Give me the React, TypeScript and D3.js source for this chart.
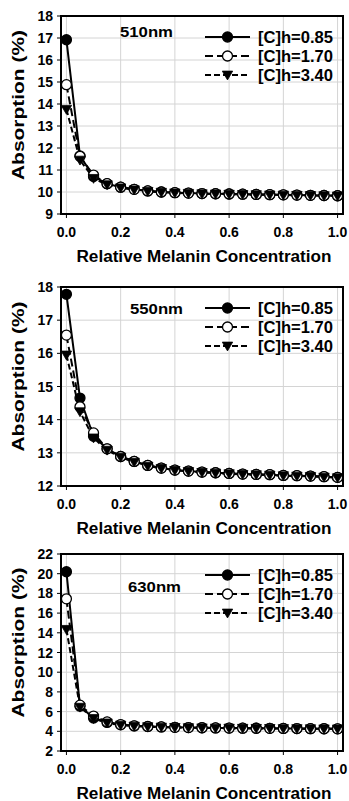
import { useEffect, useRef } from "react"
import * as d3 from "d3"

// relative melanin concentration (x) and the three hemoglobin levels
const concentrations = [0, 0.05, 0.1, 0.15, 0.2, 0.25, 0.3, 0.35, 0.4, 0.45, 0.5, 0.55, 0.6, 0.65, 0.7, 0.75, 0.8, 0.85, 0.9, 0.95, 1.0]
const seriesNames = ["[C]h=0.85", "[C]h=1.70", "[C]h=3.40"]
const xTicks = [0, 0.2, 0.4, 0.6, 0.8, 1.0]

// 510 nm
const abs510_085 = [16.92, 11.64, 10.7, 10.38, 10.22, 10.12, 10.05, 10.0, 9.97, 9.95, 9.93, 9.92, 9.91, 9.9, 9.89, 9.88, 9.87, 9.86, 9.85, 9.84, 9.83]
const abs510_170 = [14.88, 11.62, 10.77, 10.38, 10.22, 10.12, 10.05, 10.0, 9.97, 9.95, 9.93, 9.92, 9.91, 9.9, 9.89, 9.88, 9.87, 9.86, 9.85, 9.84, 9.83]
const abs510_340 = [13.76, 11.45, 10.62, 10.33, 10.19, 10.1, 10.03, 9.99, 9.96, 9.94, 9.92, 9.91, 9.9, 9.89, 9.88, 9.87, 9.86, 9.85, 9.84, 9.83, 9.82]
const ticks510 = [9, 10, 11, 12, 13, 14, 15, 16, 17, 18]

// 550 nm
const abs550_085 = [17.78, 14.65, 13.5, 13.12, 12.89, 12.74, 12.62, 12.54, 12.48, 12.45, 12.42, 12.4, 12.38, 12.36, 12.35, 12.34, 12.32, 12.31, 12.3, 12.28, 12.26]
const abs550_170 = [16.55, 14.39, 13.6, 13.12, 12.89, 12.74, 12.62, 12.54, 12.48, 12.45, 12.42, 12.4, 12.38, 12.36, 12.35, 12.34, 12.32, 12.31, 12.3, 12.28, 12.26]
const abs550_340 = [15.95, 14.24, 13.45, 13.08, 12.87, 12.72, 12.6, 12.53, 12.47, 12.44, 12.41, 12.39, 12.37, 12.35, 12.34, 12.33, 12.31, 12.3, 12.29, 12.27, 12.25]
const ticks550 = [12, 13, 14, 15, 16, 17, 18]

// 630 nm
const abs630_085 = [20.2, 6.55, 5.35, 4.9, 4.66, 4.55, 4.48, 4.44, 4.4, 4.38, 4.36, 4.34, 4.33, 4.32, 4.31, 4.3, 4.29, 4.28, 4.27, 4.26, 4.25]
const abs630_170 = [17.45, 6.65, 5.55, 4.95, 4.68, 4.56, 4.49, 4.44, 4.4, 4.38, 4.36, 4.34, 4.33, 4.32, 4.31, 4.3, 4.29, 4.28, 4.27, 4.26, 4.25]
const abs630_340 = [14.35, 6.45, 5.3, 4.85, 4.63, 4.53, 4.47, 4.43, 4.39, 4.37, 4.35, 4.33, 4.32, 4.31, 4.3, 4.29, 4.28, 4.27, 4.26, 4.25, 4.24]
const ticks630 = [2, 4, 6, 8, 10, 12, 14, 16, 18, 20, 22]

const panels = [
    { label: "510nm", series: [abs510_085, abs510_170, abs510_340], ticks: ticks510, top: 16, bottom: 214, labelX: 120, labelY: 32 },
    { label: "550nm", series: [abs550_085, abs550_170, abs550_340], ticks: ticks550, top: 287, bottom: 486, labelX: 130, labelY: 309 },
    { label: "630nm", series: [abs630_085, abs630_170, abs630_340], ticks: ticks630, top: 554, bottom: 751, labelX: 128, labelY: 587 },
]

const FONT = "'Liberation Sans', Arial, Helvetica, sans-serif"
const dashes = [null, "8,4", "6,3"]

export default function App() {
    const svgRef = useRef<SVGSVGElement | null>(null)

    useEffect(() => {
        if (!svgRef.current) return
        const svg = d3.select(svgRef.current)
        svg.selectAll("*").remove()

        const left = 61
        const right = 343

        const drawMarker = (g: any, i: number, cx: number, cy: number) => {
            if (i === 2) {
                const s = 5.2
                g.append("path")
                    .attr("d", `M${cx - s},${cy - s * 0.75}L${cx + s},${cy - s * 0.75}L${cx},${cy + s * 0.95}Z`)
                    .attr("fill", "#000")
                    .attr("stroke", "#000")
                    .attr("stroke-width", 0.8)
            } else {
                g.append("circle")
                    .attr("cx", cx).attr("cy", cy).attr("r", 5)
                    .attr("fill", i === 0 ? "#000" : "#fff")
                    .attr("stroke", "#000")
                    .attr("stroke-width", 1.3)
            }
        }

        panels.forEach(p => {
            const x = d3.scaleLinear().domain([-0.02, 1.02]).range([left, right])
            const yMin = p.ticks[0]
            const yMax = p.ticks[p.ticks.length - 1]
            const y = d3.scaleLinear().domain([yMin, yMax]).range([p.bottom, p.top])
            const g = svg.append("g")

            // grid
            g.selectAll(".vg").data(xTicks).enter().append("line")
                .attr("x1", d => x(d)).attr("x2", d => x(d))
                .attr("y1", p.top).attr("y2", p.bottom)
                .attr("stroke", "#d4d4d4").attr("stroke-width", 1)
            g.selectAll(".hg").data(p.ticks).enter().append("line")
                .attr("x1", left).attr("x2", right)
                .attr("y1", d => y(d)).attr("y2", d => y(d))
                .attr("stroke", "#d4d4d4").attr("stroke-width", 1)

            // ticks
            g.selectAll(".yt").data(p.ticks).enter().append("line")
                .attr("x1", left - 4).attr("x2", left)
                .attr("y1", d => y(d)).attr("y2", d => y(d))
                .attr("stroke", "#000").attr("stroke-width", 1)
            g.selectAll(".xt").data(xTicks).enter().append("line")
                .attr("x1", d => x(d)).attr("x2", d => x(d))
                .attr("y1", p.bottom).attr("y2", p.bottom + 4)
                .attr("stroke", "#000").attr("stroke-width", 1)

            g.selectAll(".yl").data(p.ticks).enter().append("text")
                .attr("x", left - 8).attr("y", d => y(d))
                .attr("dy", "0.36em")
                .attr("text-anchor", "end")
                .style("font-family", FONT).style("font-weight", "bold").style("font-size", "14px")
                .text(d => String(d))
            g.selectAll(".xl").data(xTicks).enter().append("text")
                .attr("x", d => x(d)).attr("y", p.bottom + 23)
                .attr("text-anchor", "middle")
                .style("font-family", FONT).style("font-weight", "bold").style("font-size", "14px")
                .text(d => d.toFixed(1))

            // axis titles
            g.append("text")
                .attr("x", 204).attr("y", p.bottom + 48)
                .attr("text-anchor", "middle")
                .attr("textLength", 255).attr("lengthAdjust", "spacingAndGlyphs")
                .style("font-family", FONT).style("font-weight", "bold").style("font-size", "16px")
                .text("Relative Melanin Concentration")
            g.append("text")
                .attr("transform", `translate(24,${(p.top + p.bottom) / 2 - 10}) rotate(-90)`)
                .attr("text-anchor", "middle")
                .attr("textLength", 150).attr("lengthAdjust", "spacingAndGlyphs")
                .style("font-family", FONT).style("font-weight", "bold").style("font-size", "17px")
                .text("Absorption (%)")

            // series
            p.series.forEach((vals, i) => {
                const pts = concentrations.map((c, k) => [c, vals[k]] as [number, number])
                const line = d3.line<[number, number]>().x(d => x(d[0])).y(d => y(d[1]))
                g.append("path")
                    .attr("d", line(pts))
                    .attr("fill", "none")
                    .attr("stroke", "#000")
                    .attr("stroke-width", 2)
                    .attr("stroke-dasharray", dashes[i])
            })
            p.series.forEach((vals, i) => {
                const mg = g.append("g")
                vals.forEach((v, k) => drawMarker(mg, i, x(concentrations[k]), y(v)))
            })

            // frame
            g.append("rect")
                .attr("x", left).attr("y", p.top)
                .attr("width", right - left).attr("height", p.bottom - p.top)
                .attr("fill", "none").attr("stroke", "#000").attr("stroke-width", 2)

            // wavelength label
            g.append("text")
                .attr("x", p.labelX).attr("y", p.labelY).attr("dy", "0.36em")
                .attr("textLength", 53).attr("lengthAdjust", "spacingAndGlyphs")
                .style("font-family", FONT).style("font-weight", "bold").style("font-size", "15px")
                .text(p.label)

            // legend
            seriesNames.forEach((name, i) => {
                const ly = p.top + 21 + i * 19
                g.append("line")
                    .attr("x1", 205).attr("x2", 250).attr("y1", ly).attr("y2", ly)
                    .attr("stroke", "#000").attr("stroke-width", 2)
                    .attr("stroke-dasharray", dashes[i])
                drawMarker(g, i, 227.5, ly)
                g.append("text")
                    .attr("x", 258).attr("y", ly).attr("dy", "0.36em")
                    .attr("textLength", 75).attr("lengthAdjust", "spacingAndGlyphs")
                    .style("font-family", FONT).style("font-weight", "bold").style("font-size", "16px")
                    .text(name)
            })
        })
    }, [])

    return (
        <div style={{ position: "absolute", left: 0, top: 0, width: 349, height: 801, background: "#fff" }}>
            <svg ref={svgRef} width={349} height={801} viewBox="0 0 349 801" />
        </div>
    )
}
